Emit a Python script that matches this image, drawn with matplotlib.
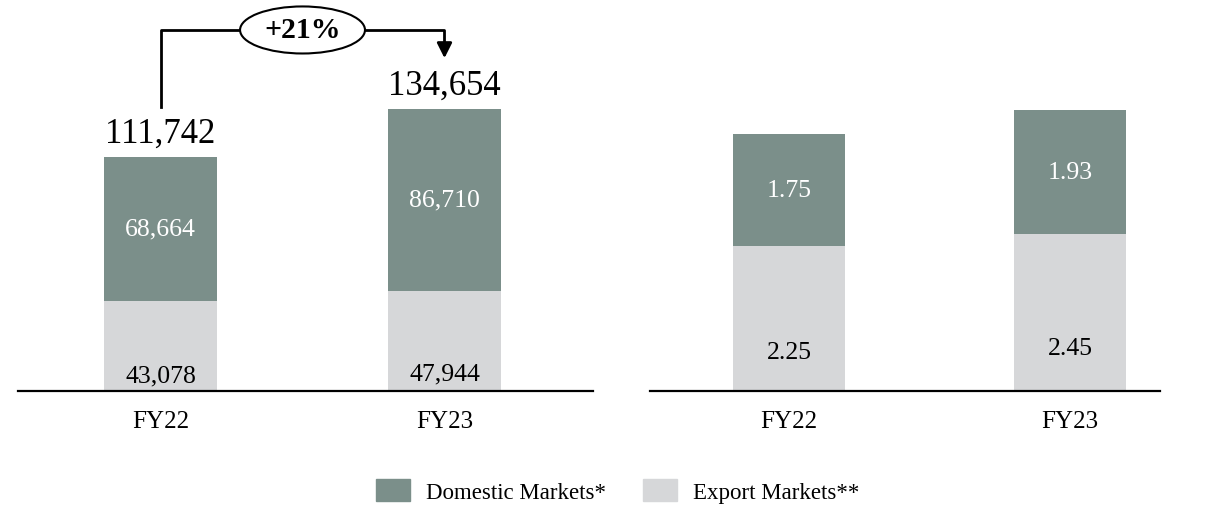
import matplotlib
matplotlib.use('Agg')
import matplotlib.pyplot as plt
import matplotlib.transforms as mtransforms
from matplotlib.patches import Patch, Ellipse

plt.rcParams['font.family'] = ['Liberation Serif', 'DejaVu Serif']

# datos
anios = ['FY22', 'FY23']
domestico_vol = [68664, 86710]
export_vol = [43078, 47944]
domestico_val = [1.75, 1.93]
export_val = [2.25, 2.45]
crecimiento = '+21%'
leyenda = ['Domestic Markets*', 'Export Markets**']

COLOR_DOM = '#7b8f8a'
COLOR_EXP = '#d6d7d9'

fig = plt.figure(figsize=(12.16, 5.10), dpi=100)
ax1 = fig.add_axes([18 / 1216, 118 / 510, 575 / 1216, 392 / 510])
ax2 = fig.add_axes([650 / 1216, 118 / 510, 510 / 1216, 392 / 510])


def barras(ax, exp, dom, ancho, fmt, frac_exp):
  x = list(range(len(anios)))
  ax.bar(x, exp, width=ancho, color=COLOR_EXP, zorder=2)
  ax.bar(x, dom, width=ancho, bottom=exp, color=COLOR_DOM, zorder=2)
  for i in x:
    ax.text(i, exp[i] * frac_exp, fmt(exp[i]), ha='center', va='center',
            fontsize=18.5, color='black', zorder=3)
    ax.text(i, exp[i] + dom[i] / 2, fmt(dom[i]), ha='center', va='center',
            fontsize=18.5, color='white', zorder=3)
  ax.axhline(0, color='black', lw=1.6, zorder=4, clip_on=False)
  for s in ax.spines.values():
    s.set_visible(False)
  ax.set_yticks([])
  ax.set_xticks(x)
  ax.set_xticklabels(anios, fontsize=18)
  ax.tick_params(axis='x', length=0, pad=14)
  ax.patch.set_alpha(0)


barras(ax1, export_vol, domestico_vol, 0.398, lambda v: f'{v:,}', 0.17)
ax1.set_xlim(-0.502, 1.523)
ax1.set_ylim(0, 187200)

barras(ax2, export_val, domestico_val, 0.40, lambda v: f'{v:.2f}', 0.27)
ax2.set_xlim(-0.495, 1.32)
ax2.set_ylim(0, 6.10)

# totales
for i in range(len(anios)):
  total = export_vol[i] + domestico_vol[i]
  ax1.annotate(f'{total:,}', (i, total), xytext=(0, 5), textcoords='offset points',
               ha='center', va='bottom', fontsize=25)

# flecha de crecimiento
tr = mtransforms.blended_transform_factory(ax1.transData, ax1.transAxes)
ax1.plot([0, 0, 0.28], [0.724, 0.921, 0.921], color='black', lw=2,
         transform=tr, clip_on=False)
ax1.plot([0.72, 1, 1], [0.921, 0.921, 0.87], color='black', lw=2,
         transform=tr, clip_on=False)
ax1.annotate('', xy=(1, 0.842), xytext=(1, 0.885), xycoords=tr, textcoords=tr,
             arrowprops=dict(arrowstyle='-|>,head_width=0.45,head_length=0.9',
                             color='black', lw=2))
ax1.add_patch(Ellipse((0.5, 0.921), 0.44, 0.12, transform=tr, facecolor='white',
                      edgecolor='black', lw=1.5, clip_on=False, zorder=5))
ax1.text(0.5, 0.921, crecimiento, transform=tr, ha='center', va='center',
         fontsize=21.5, fontweight='bold', zorder=6)

handles = [Patch(color=COLOR_DOM), Patch(color=COLOR_EXP)]
fig.legend(handles, leyenda, loc='center', bbox_to_anchor=(0.508, 1 - 492 / 510),
           ncol=2, frameon=False, fontsize=16.5, handlelength=1.5,
           handleheight=1.1, columnspacing=1.6, handletextpad=0.7)

fig.savefig('out.png', dpi=100)
